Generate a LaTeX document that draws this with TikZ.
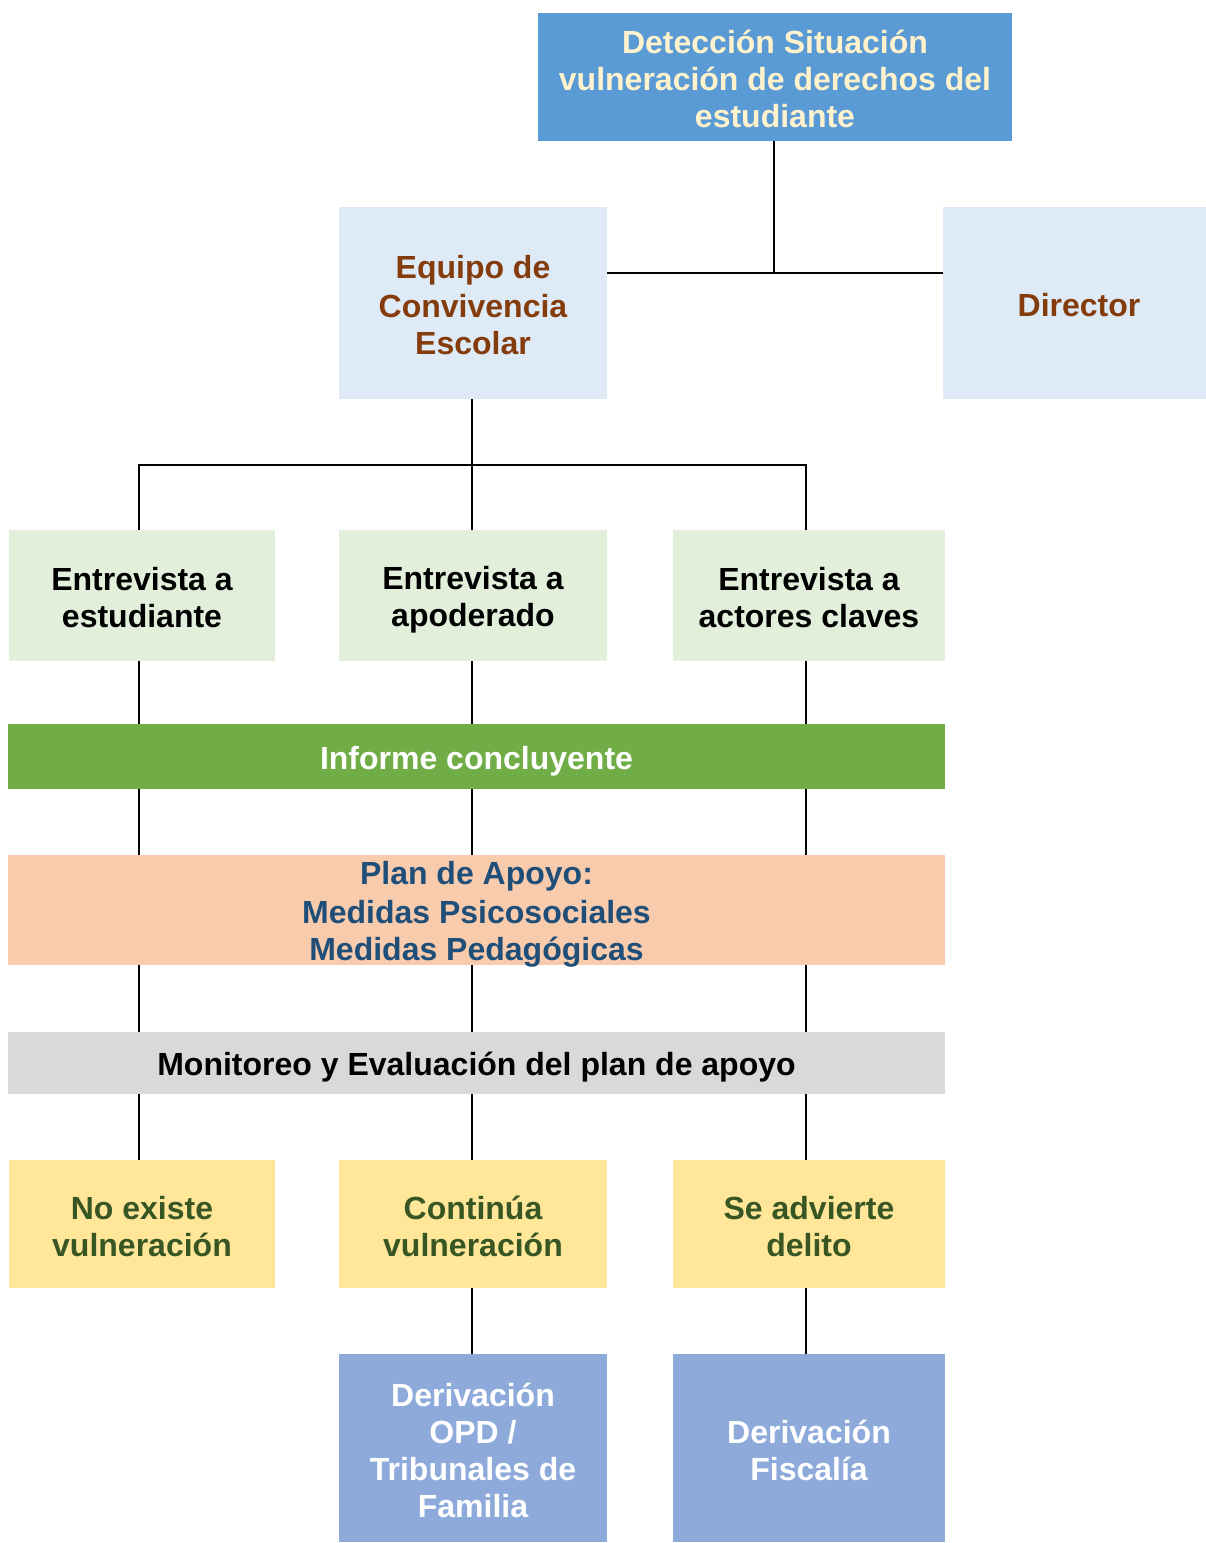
\documentclass[tikz,border=0pt]{standalone}
\usepackage{fontspec}
\setmainfont{Liberation Sans}
\definecolor{topblue}{HTML}{5B9BD5}
\definecolor{topyel}{HTML}{FFF2CC}
\definecolor{ltblue}{HTML}{DEEAF6}
\definecolor{brown}{HTML}{843C0C}
\definecolor{ltgreen}{HTML}{E2EFDA}
\definecolor{green}{HTML}{70AD47}
\definecolor{peach}{HTML}{F8CBAD}
\definecolor{navy}{HTML}{1F4E79}
\definecolor{grey}{HTML}{D9D9D9}
\definecolor{yel}{HTML}{FFE699}
\definecolor{dkgreen}{HTML}{375623}
\definecolor{periw}{HTML}{8EAADB}
\newcommand{\ls}{\rule[-5pt]{0pt}{37pt}}
\begin{document}
\begin{tikzpicture}[x=1pt,y=-1pt,
  box/.style={draw=none,inner sep=0pt,align=center,font=\fontsize{32}{37}\selectfont\bfseries},
  link/.style={line width=2pt,black}]
\useasboundingbox (0,0) rectangle (1206,1543);
\fill[white] (0,0) rectangle (1206,1543);
% boxes
\node[box,fill=topblue,text=topyel,minimum width=474,minimum height=128] (top) at (775,77) {\ls Detección Situación\\\ls vulneración de derechos del\\\ls estudiante};
\node[box,fill=ltblue,text=brown,minimum width=268,minimum height=192] (eq) at (473,303) {\ls Equipo de\\\ls Convivencia\\\ls Escolar};
\node[box,fill=ltblue,text=brown,minimum width=272,minimum height=192] (dir) at (1079,303) {\ls Director};
\node[box,fill=ltgreen,text=black,minimum width=266,minimum height=131] (e1) at (142,595.5) {\ls Entrevista a\\\ls estudiante};
\node[box,fill=ltgreen,text=black,minimum width=268,minimum height=131] (e2) at (473,595.5) {\ls Entrevista a\\\ls apoderado};
\node[box,fill=ltgreen,text=black,minimum width=272,minimum height=131] (e3) at (809,595.5) {\ls Entrevista a\\\ls actores claves};
\node[box,fill=green,text=white,minimum width=937,minimum height=65] (inf) at (476.5,756.5) {\ls Informe concluyente};
\node[box,fill=peach,text=navy,minimum width=937,minimum height=110,inner ysep=-4pt] (plan) at (476.5,910) {\ls Plan de Apoyo:\\\ls Medidas Psicosociales\\\ls Medidas Pedagógicas};
\node[box,fill=grey,text=black,minimum width=937,minimum height=62] (mon) at (476.5,1063) {\ls Monitoreo y Evaluación del plan de apoyo};
\node[box,fill=yel,text=dkgreen,minimum width=266,minimum height=128] (y1) at (142,1224) {\ls No existe\\\ls vulneración};
\node[box,fill=yel,text=dkgreen,minimum width=268,minimum height=128] (y2) at (473,1224) {\ls Continúa\\\ls vulneración};
\node[box,fill=yel,text=dkgreen,minimum width=272,minimum height=128] (y3) at (809,1224) {\ls Se advierte\\\ls delito};
\node[box,fill=periw,text=white,minimum width=268,minimum height=188] (d1) at (473,1448) {\ls Derivación\\\ls OPD /\\\ls Tribunales de\\\ls Familia};
\node[box,fill=periw,text=white,minimum width=272,minimum height=188] (d2) at (809,1448) {\ls Derivación\\\ls Fiscalía};
% guide coordinates
\coordinate (c1) at (139,0);
\coordinate (c2) at (472,0);
\coordinate (c3) at (806,0);
\coordinate (ctop) at (774,273);
\coordinate (ceq) at (472,465);
% connectors
\draw[link] (top.south -| ctop) -- (ctop);
\draw[link] (eq.east |- ctop) -- (dir.west |- ctop);
\draw[link] (eq.south -| c2) -- (e2.north -| c2);
\draw[link] (e1.north -| c1) -- (c1 |- ceq) -- (c3 |- ceq) -- (e3.north -| c3);
\foreach \c in {c1,c2,c3}{
  \draw[link] (e1.south -| \c) -- (inf.north -| \c);
  \draw[link] (inf.south -| \c) -- (plan.north -| \c);
  \draw[link] (plan.south -| \c) -- (mon.north -| \c);
  \draw[link] (mon.south -| \c) -- (y1.north -| \c);
}
\draw[link] (y2.south -| c2) -- (d1.north -| c2);
\draw[link] (y3.south -| c3) -- (d2.north -| c3);
\end{tikzpicture}
\end{document}
